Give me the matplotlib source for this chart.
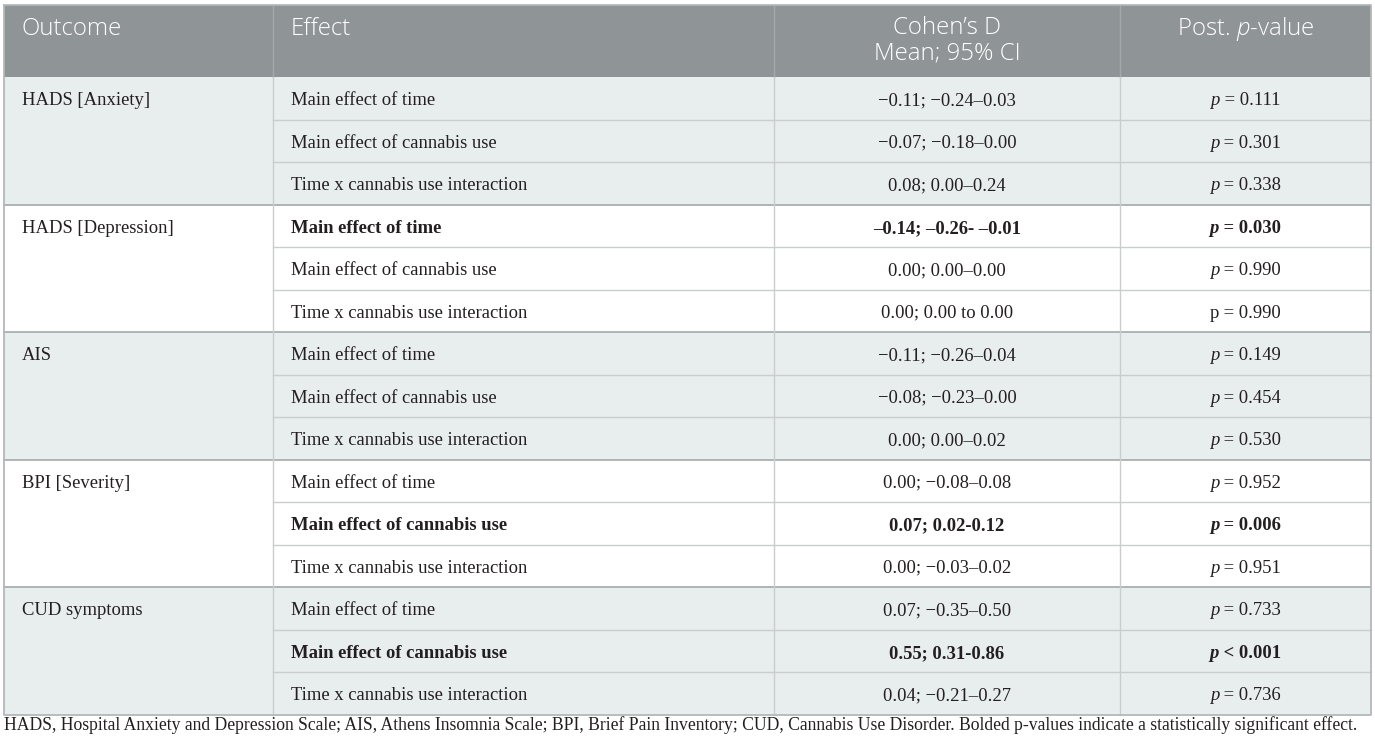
import matplotlib
matplotlib.use("Agg")
import matplotlib.pyplot as plt
from matplotlib.patches import Rectangle

# table content
headers = ["Outcome", "Effect", "Cohen\u2019s D\nMean; 95% CI", "Post. p-value"]
outcomes = ["HADS [Anxiety]", "HADS [Depression]", "AIS", "BPI [Severity]", "CUD symptoms"]
effects = ["Main effect of time", "Main effect of cannabis use", "Time x cannabis use interaction"]
cohens_d = [
    "\u22120.11; \u22120.24\u20130.03", "\u22120.07; \u22120.18\u20130.00", "0.08; 0.00\u20130.24",
    "\u20130.14; \u20130.26- \u20130.01", "0.00; 0.00\u20130.00", "0.00; 0.00 to 0.00",
    "\u22120.11; \u22120.26\u20130.04", "\u22120.08; \u22120.23\u20130.00", "0.00; 0.00\u20130.02",
    "0.00; \u22120.08\u20130.08", "0.07; 0.02-0.12", "0.00; \u22120.03\u20130.02",
    "0.07; \u22120.35\u20130.50", "0.55; 0.31-0.86", "0.04; \u22120.21\u20130.27",
]
p_values = [
    "= 0.111", "= 0.301", "= 0.338",
    "= 0.030", "= 0.990", "= 0.990",
    "= 0.149", "= 0.454", "= 0.530",
    "= 0.952", "= 0.006", "= 0.951",
    "= 0.733", "< 0.001", "= 0.736",
]
p_italic = [True] * 15
p_italic[5] = False
bold_rows = [3, 10, 13]
footnote = ("HADS, Hospital Anxiety and Depression Scale; AIS, Athens Insomnia Scale; BPI, Brief Pain Inventory; "
            "CUD, Cannabis Use Disorder. Bolded p-values indicate a statistically significant effect.")

# layout (pixels)
W, H = 1375, 748
col_x = [4, 273, 774, 1120, 1371]
head_top, head_bot = 5, 77
row_h = 42.5
n_rows = 15

header_bg = "#8f9497"
shade_bg = "#e8eded"
line_c = "#c9cdcd"
group_c = "#a9afb0"
text_c = "#231f20"
serif = "Liberation Serif"
sans = "Open Sans"
fs = 13.4
hfs = 17.3

plt.rcParams["mathtext.fontset"] = "custom"
plt.rcParams["mathtext.it"] = sans + ":italic:light"
plt.rcParams["mathtext.rm"] = sans + ":light"

fig = plt.figure(figsize=(W / 100, H / 100), dpi=100)
ax = fig.add_axes([0, 0, 1, 1])
ax.set_xlim(0, W)
ax.set_ylim(H, 0)
ax.axis("off")

# backgrounds
ax.add_patch(Rectangle((col_x[0], head_top), col_x[-1] - col_x[0], head_bot - head_top,
                       facecolor=header_bg, edgecolor="none"))
for g in range(5):
    top = head_bot + 3 * g * row_h
    fc = shade_bg if g % 2 == 0 else "white"
    ax.add_patch(Rectangle((col_x[0], top), col_x[-1] - col_x[0], 3 * row_h, facecolor=fc, edgecolor="none"))

# header dividers
for x in col_x[1:-1]:
    ax.plot([x, x], [head_top, head_bot], color="#a4a9ab", lw=1.0)

# row lines
bottom = head_bot + n_rows * row_h
for i in range(1, n_rows):
    y = head_bot + i * row_h
    if i % 3 == 0:
        ax.plot([col_x[0], col_x[-1]], [y, y], color=group_c, lw=1.3)
    else:
        ax.plot([col_x[1], col_x[-1]], [y, y], color=line_c, lw=1.0)
for x in col_x[1:-1]:
    ax.plot([x, x], [head_bot, bottom], color=line_c, lw=1.0)
# outer border
ax.plot([col_x[0], col_x[-1], col_x[-1], col_x[0], col_x[0]],
        [head_top, head_top, bottom, bottom, head_top], color="#b3b8b9", lw=1.3)

# header text
hy = 29
hkw = dict(color="white", fontsize=hfs, family=sans, fontweight="light", va="center")
ax.text(22, hy, headers[0], ha="left", **hkw)
ax.text(291, hy, headers[1], ha="left", **hkw)
cx_d = (col_x[2] + col_x[3]) / 2
cx_p = (col_x[3] + col_x[4]) / 2
lines = headers[2].split("\n")
ax.text(cx_d, hy - 1, lines[0], ha="center", **hkw)
ax.text(cx_d, hy + 24, lines[1], ha="center", **hkw)
ax.text(cx_p, hy, r"Post. $p$-value", ha="center", **hkw)

renderer = fig.canvas.get_renderer()

# body
dy = 2.5
for g, name in enumerate(outcomes):
    ax.text(22, head_bot + 3 * g * row_h + row_h / 2 + dy, name, fontsize=fs, family=serif,
            color=text_c, va="center", ha="left")

for i in range(n_rows):
    yc = head_bot + i * row_h + row_h / 2 + dy
    wt = "bold" if i in bold_rows else "normal"
    ax.text(291, yc, effects[i % 3], fontsize=fs, family=serif, color=text_c, va="center",
            ha="left", fontweight=wt)
    ax.text(cx_d, yc, cohens_d[i], fontsize=fs, family=serif, color=text_c, va="center",
            ha="center", fontweight=wt)
    # p-value: "p" (italic) + rest, centred as one piece
    sty = "italic" if p_italic[i] else "normal"
    t1 = ax.text(0, yc, "p", fontsize=fs, family=serif, color=text_c, va="center",
                 ha="left", fontweight=wt, fontstyle=sty)
    t2 = ax.text(0, yc, " " + p_values[i], fontsize=fs, family=serif, color=text_c, va="center",
                 ha="left", fontweight=wt)
    w1 = t1.get_window_extent(renderer).width
    w2 = t2.get_window_extent(renderer).width
    x0 = cx_p - (w1 + w2) / 2
    t1.set_x(x0)
    t2.set_x(x0 + w1)

ax.text(col_x[0], 725, footnote, fontsize=12.7, family=serif, color=text_c, va="center", ha="left")

fig.savefig("out.png", dpi=100)
